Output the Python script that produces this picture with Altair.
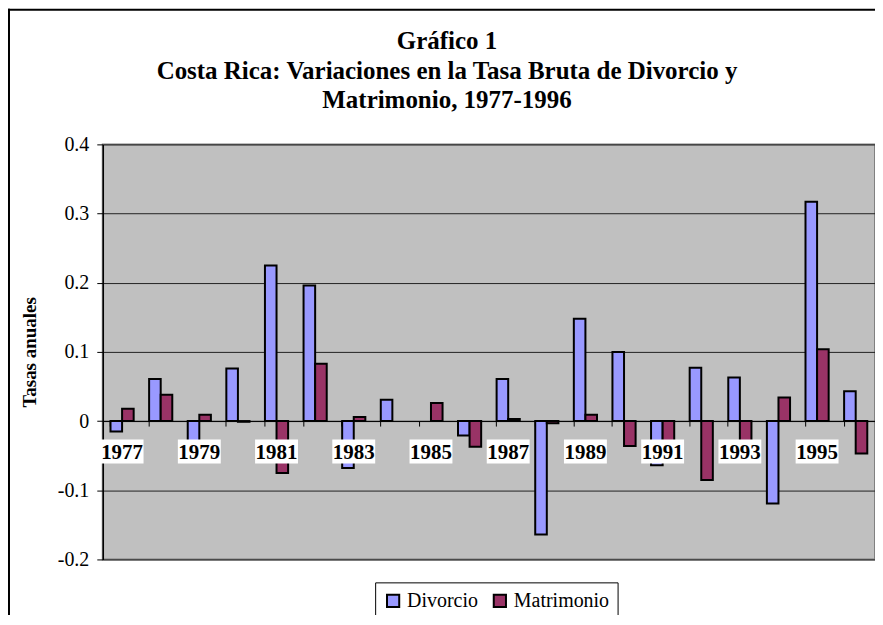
import altair as alt
import pandas as pd

years = ["1977", "1978", "1979", "1980", "1981", "1982", "1983", "1984", "1985", "1986",
         "1987", "1988", "1989", "1990", "1991", "1992", "1993", "1994", "1995", "1996"]
divorcio = [-0.015, 0.061, -0.040, 0.076, 0.225, 0.196, -0.068, 0.031, None, -0.021,
            0.061, -0.164, 0.148, 0.100, -0.064, 0.077, 0.063, -0.119, 0.317, 0.043]
matrimonio = [0.018, 0.038, 0.009, -0.001, -0.075, 0.083, 0.006, None, 0.026, -0.037,
              0.003, -0.003, 0.009, -0.036, -0.040, -0.085, -0.040, 0.034, 0.104, -0.047]
series = ["Divorcio", "Matrimonio"]
colors = ["#9999FF", "#993366"]
label_years = ["1977", "1979", "1981", "1983", "1985", "1987", "1989", "1991", "1993", "1995"]
y_ticks = [-0.2, -0.1, 0, 0.1, 0.2, 0.3, 0.4]
title_lines = "Gráfico 1\nCosta Rica: Variaciones en la Tasa Bruta de Divorcio y\nMatrimonio, 1977-1996"

rows = []
for i, yr in enumerate(years):
    rows.append({"year": yr, "serie": "Divorcio", "valor": divorcio[i]})
    rows.append({"year": yr, "serie": "Matrimonio", "valor": matrimonio[i]})
df = pd.DataFrame(rows)
labels_df = pd.DataFrame({"year": label_years})

FONT = "Liberation Serif"
W, H = 774, 416

x_enc = alt.X(
    "year:N", sort=years, title=None,
    scale=alt.Scale(paddingInner=0.4, paddingOuter=0.2),
    axis=alt.Axis(labels=False, grid=False, offset=-138.67, bandPosition=0,
                  tickSize=5, tickColor="black", tickWidth=1,
                  domainColor="black", domainWidth=1),
)
x_plain = alt.X("year:N", sort=years)

bars = alt.Chart(df).mark_bar(stroke="black", strokeWidth=2).encode(
    x=x_enc,
    xOffset=alt.XOffset("serie:N", sort=series),
    y=alt.Y("valor:Q",
            scale=alt.Scale(domain=[-0.2, 0.4], nice=False, zero=False),
            axis=alt.Axis(values=y_ticks, title="Tasas anuales",
                          labelExpr="replace(format(datum.value, '.1~f'), '\u2212', '-')",
                          labelFont=FONT, labelFontSize=20, labelColor="black",
                          labelPadding=8, tickSize=6, tickColor="black",
                          domainColor="black", domainWidth=1.5,
                          gridColor="#222222", gridWidth=1,
                          titleFont=FONT, titleFontSize=19, titleFontWeight="bold",
                          titleColor="black", titleX=-63, titleY=208)),
    color=alt.Color("serie:N", scale=alt.Scale(domain=series, range=colors),
                    legend=alt.Legend(title=None, orient="none", legendX=273, legendY=439,
                                      direction="horizontal", symbolType="square",
                                      symbolSize=150, symbolStrokeColor="black",
                                      symbolStrokeWidth=2, symbolOpacity=1,
                                      labelFont=FONT, labelFontSize=20, labelColor="black",
                                      labelOffset=4, columnPadding=10, padding=8,
                                      strokeColor="black", fillColor="white")),
)

boxes = alt.Chart(labels_df).mark_bar(width=43, color="white").encode(
    x=x_plain,
    y=alt.datum(-0.0265),
    y2=alt.datum(-0.0612),
)

texts = alt.Chart(labels_df).mark_text(
    font=FONT, fontSize=21, fontWeight="bold", color="black",
    baseline="alphabetic", dy=38,
).encode(
    x=x_plain,
    y=alt.datum(0),
    text="year:N",
)

title_df = pd.DataFrame({"t": [title_lines]})
title = alt.Chart(title_df).mark_text(
    font=FONT, fontSize=25, fontWeight="bold", color="black",
    align="center", baseline="alphabetic", lineBreak="\n", lineHeight=30,
).encode(
    x=alt.value(W / 2 - 42), y=alt.value(-96), text="t:N",
)

one = pd.DataFrame({"k": [0]})
border_left = alt.Chart(one).mark_rule(color="black", strokeWidth=2).encode(
    x=alt.value(-94), y=alt.value(-136), y2=alt.value(H + 60))
border_top = alt.Chart(one).mark_rule(color="black", strokeWidth=2).encode(
    x=alt.value(-95), x2=alt.value(W), y=alt.value(-135))

chart = alt.layer(bars, boxes, texts, title, border_left, border_top).properties(
    width=W, height=H,
    autosize=alt.AutoSizeParams(type="none"),
    padding={"left": 95, "top": 136, "right": 0, "bottom": 55},
).configure(background="white", font=FONT).configure_view(
    fill="#C0C0C0", stroke="#808080", strokeWidth=2
)

chart.save("out.html", embed_options={"renderer": "svg", "actions": False})
